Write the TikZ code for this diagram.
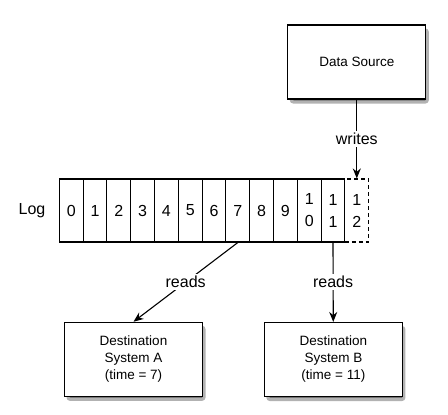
\documentclass[tikz,border=0pt]{standalone}
\usepackage{fontspec}
\setmainfont{Liberation Sans}
\usetikzlibrary{positioning,arrows.meta}

\begin{document}
\begin{tikzpicture}[x=1pt,y=-1pt,>={Stealth[length=10pt,width=8pt]},line width=1.1pt,
  box/.style={draw,fill=white,minimum width=138pt,minimum height=74pt,align=center,
    font=\fontsize{13.5}{17}\selectfont},
  cell/.style={draw,fill=white,minimum width=23.8pt,minimum height=63pt,inner sep=0pt,
    align=center,font=\fontsize{16}{22}\selectfont},
  lbl/.style={fill=white,font=\fontsize{16}{18}\selectfont,inner sep=2pt},
  boxshadow/.style={fill=black!55,draw=black!30,line width=3pt,rounded corners=2pt,
    minimum width=136pt,minimum height=72pt,inner sep=0pt}]

    \useasboundingbox (0,0) rectangle (448,415);

    % Box shadows
    \node [boxshadow] at (359.3,66) (srcshadow) {};
    \node [boxshadow] at (136,363.3) (dstAshadow) {};
    \node [boxshadow] at (335.9,363.5) (dstBshadow) {};

    % The boxes
    \node [box] at (356.8,62) (src) {Data Source};
    \node [box] at (133.5,359.3) (dstA) {Destination\\System A\\(time = 7)};
    \node [box] at (333.4,359.5) (dstB) {Destination\\System B\\(time = 11)};

    % The log
    \node [cell,dash pattern=on 4pt off 3pt] at (356.8,210.5) (c12) {1\\2};
    \foreach \i in {0,...,9}
        \node [cell] at (71.2+23.8*\i,210.5) (c\i) {\i};
    \node [cell] at (309.2,210.5) (c10) {1\\0};
    \node [cell] at (333,210.5) (c11) {1\\1};
    \node [font=\fontsize{16}{18}\selectfont] at (32,211) (log) {Log};

    % Log edges
    \path[->]
    (src) edge node[lbl] {writes} (c12)
    (c7.south) edge node[lbl] {reads} (dstA.north)
    (c11.south) edge node[lbl] {reads} (dstB);

\end{tikzpicture}
\end{document}
